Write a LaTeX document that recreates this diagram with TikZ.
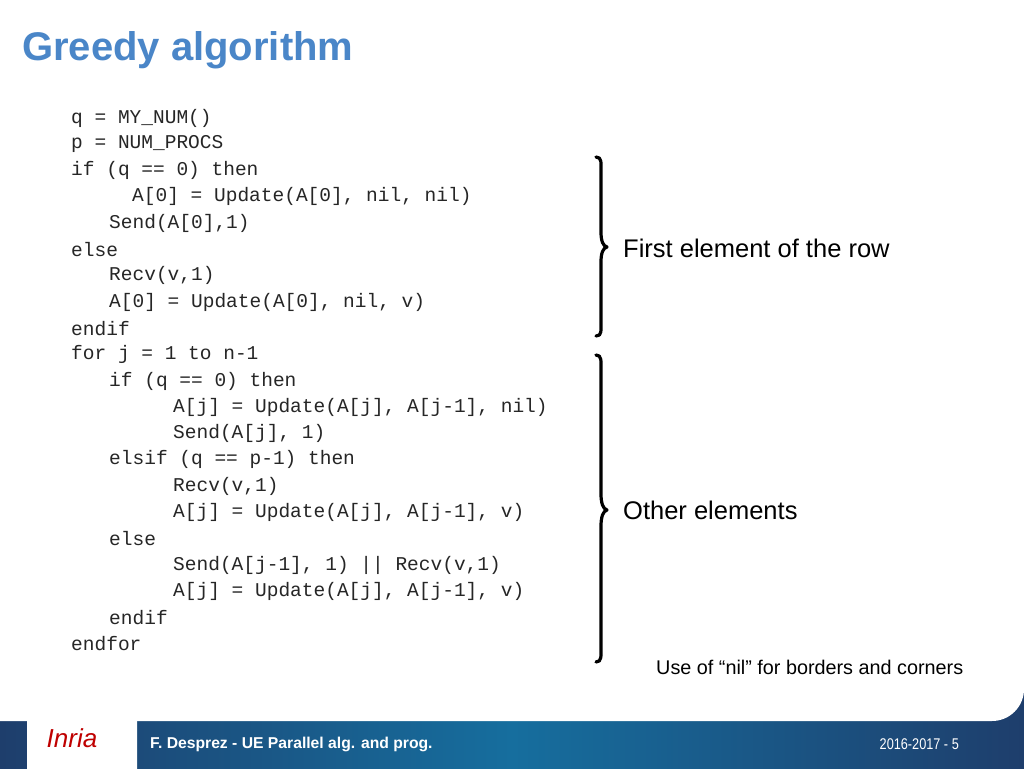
\documentclass[tikz,border=0pt]{standalone}
\usepackage{fontspec}
\setmainfont{Liberation Sans}
\newfontfamily\codefont{Liberation Mono}
\definecolor{bandside}{RGB}{30,62,108}
\definecolor{bandmid}{RGB}{22,110,158}
\begin{document}
\begin{tikzpicture}[x=1pt,y=-1pt,
  code/.style={anchor=west,inner sep=0pt,font=\codefont\fontsize{19.5}{20}\selectfont,text=black!85},
  lab/.style={anchor=west,inner sep=0pt,font=\fontsize{25.5}{27}\selectfont},
  brace/.style={line width=3.2pt,line cap=round,line join=round}]
\useasboundingbox (0,0) rectangle (1024,768);
\fill[white] (0,0) rectangle (1024,768);
\shade[left color=bandside, right color=bandside, middle color=bandmid] (0,680) rectangle (1024,768);
\fill[white] (0,0) -- (1024,0) [rounded corners=32pt]-- (1024,721) [sharp corners]-- (0,721) -- cycle;
\fill[white,rounded corners=8pt] (27,780) -- (27,706) -- (137,706) -- (137,780) -- cycle;
\node[anchor=center,inner sep=0pt,text=red!75!black,font=\itshape\fontsize{26}{26}\selectfont] (logo) at (72,738) {Inria};
\node[anchor=west,inner sep=0pt,text=white,font=\bfseries\fontsize{15.7}{17}\selectfont] (foot) at (150,744) {F. Desprez - UE Parallel alg. and prog.};
\node[anchor=east,inner sep=0pt,text=white,xscale=0.82,font=\fontsize{15.5}{17}\selectfont] (page) at (959,744) {2016-2017 - 5};
\node[anchor=west,inner sep=0pt,text={rgb,255:red,74;green,134;blue,200},font=\bfseries\fontsize{40}{42}\selectfont] (title) at (22,50) {Greedy algorithm};
\node[code] (l1) at (71,118) {q = MY\_NUM()};
\node[code] (l2) at (71,144.3) {p = NUM\_PROCS};
\node[code] (l3) at (71,170.6) {if (q == 0) then};
\node[code] (l4) at (132,196.9) {A[0] = Update(A[0], nil, nil)};
\node[code] (l5) at (109,223.2) {Send(A[0],1)};
\node[code] (l6) at (71,249.5) {else};
\node[code] (l7) at (109,275.8) {Recv(v,1)};
\node[code] (l8) at (109,302.1) {A[0] = Update(A[0], nil, v)};
\node[code] (l9) at (71,328.4) {endif};
\node[code] (l10) at (71,354.7) {for j = 1 to n-1};
\node[code] (l11) at (109,381) {if (q == 0) then};
\node[code] (l12) at (173,407.3) {A[j] = Update(A[j], A[j-1], nil)};
\node[code] (l13) at (173,433.6) {Send(A[j], 1)};
\node[code] (l14) at (109,459.9) {elsif (q == p-1) then};
\node[code] (l15) at (173,486.2) {Recv(v,1)};
\node[code] (l16) at (173,512.5) {A[j] = Update(A[j], A[j-1], v)};
\node[code] (l17) at (109,538.8) {else};
\node[code] (l18) at (173,565.1) {Send(A[j-1], 1) || Recv(v,1)};
\node[code] (l19) at (173,591.4) {A[j] = Update(A[j], A[j-1], v)};
\node[code] (l20) at (109,617.7) {endif};
\node[code] (l21) at (71,644) {endfor};
\draw[brace] (596,157) .. controls (602,157) and (601,163) .. (601,172) -- (601,232) .. controls (601,241) and (603,246) .. (607,247) .. controls (603,248) and (601,253) .. (601,262) -- (601,320) .. controls (601,331) and (602,336) .. (596,336);
\draw[brace] (596,355) .. controls (602,355) and (601,361) .. (601,372) -- (601,494) .. controls (601,503) and (603,509) .. (607,510) .. controls (603,511) and (601,517) .. (601,526) -- (601,645) .. controls (601,656) and (602,662) .. (596,662);
\node[lab] (first) at (623,248) {First element of the row};
\node[lab] (other) at (623,510) {Other elements};
\node[anchor=west,inner sep=0pt,font=\fontsize{19.8}{21}\selectfont] (note) at (656,667) {Use of “nil” for borders and corners};
\end{tikzpicture}
\end{document}
